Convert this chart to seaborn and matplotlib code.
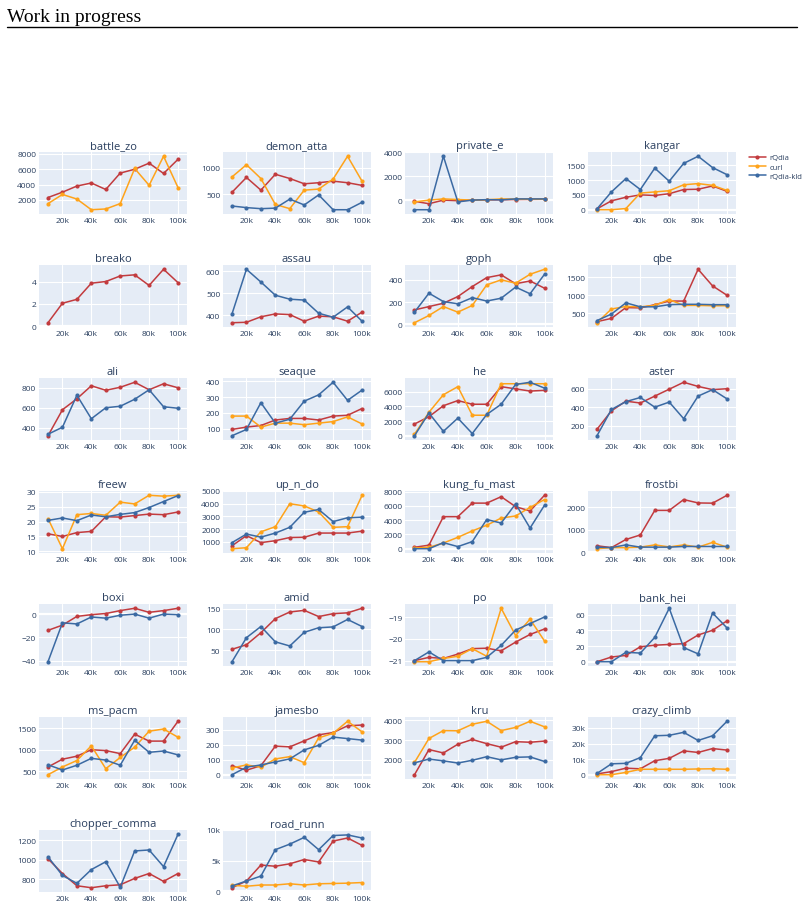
import matplotlib
matplotlib.use("Agg")
import matplotlib.pyplot as plt
from matplotlib.lines import Line2D
from matplotlib.ticker import FuncFormatter
import seaborn as sns
import pandas as pd

# ---------------- data ----------------
steps = [10000, 20000, 30000, 40000, 50000, 60000, 70000, 80000, 90000, 100000]
x_ticks = [20000, 40000, 60000, 80000, 100000]
x_tick_labels = ["20k", "40k", "60k", "80k", "100k"]
methods = ["rQdia", "curl", "rQdia-kld"]
colors = {"rQdia": "#c23b3e", "curl": "#ffa31a", "rQdia-kld": "#3b6aa3"}

battle_zo = {"rQdia": [2300, 3000, 3800, 4200, 3350, 5500, 6000, 6800, 5450, 7300],
             "curl": [1500, 2700, 2100, 700, 800, 1500, 6100, 3900, 7700, 3600]}
demon_atta = {"rQdia": [540, 820, 580, 880, 800, 700, 720, 750, 720, 670],
              "curl": [830, 1060, 800, 310, 230, 580, 600, 790, 1220, 750],
              "rQdia-kld": [280, 250, 230, 240, 410, 300, 490, 210, 210, 350]}
private_e = {"rQdia": [-100, -300, 0, -50, 0, 20, 30, 50, 60, 70],
             "curl": [-150, 0, 100, 50, 0, 30, 100, 80, 80, 80],
             "rQdia-kld": [-800, -800, 3650, -150, 0, 40, 20, 100, 100, 100]}
kangar = {"rQdia": [30, 300, 420, 500, 480, 540, 680, 690, 800, 620],
          "curl": [0, 0, 40, 560, 600, 640, 840, 880, 820, 650],
          "rQdia-kld": [30, 600, 1050, 680, 1400, 960, 1560, 1800, 1420, 1180]}
breako = {"rQdia": [0.3, 2.05, 2.4, 3.85, 4.0, 4.5, 4.6, 3.65, 5.1, 3.9]}
assau = {"rQdia": [365, 367, 392, 405, 402, 372, 395, 392, 372, 413],
         "rQdia-kld": [405, 608, 550, 490, 472, 468, 408, 390, 437, 372]}
goph = {"rQdia": [130, 160, 190, 250, 340, 420, 445, 365, 390, 325],
        "curl": [15, 80, 160, 110, 170, 355, 400, 370, 450, 495],
        "rQdia-kld": [110, 280, 205, 185, 240, 210, 235, 335, 275, 450]}
qbe = {"rQdia": [270, 360, 660, 650, 740, 840, 840, 1720, 1260, 1000],
       "curl": [240, 620, 690, 680, 720, 880, 720, 720, 710, 710],
       "rQdia-kld": [300, 480, 790, 680, 680, 740, 750, 750, 740, 740]}
ali = {"rQdia": [320, 580, 690, 820, 775, 805, 855, 780, 840, 800],
       "rQdia-kld": [335, 405, 725, 490, 600, 615, 685, 780, 610, 595]}
seaque = {"rQdia": [95, 110, 120, 155, 165, 165, 155, 180, 185, 228],
          "curl": [180, 180, 110, 135, 135, 125, 135, 145, 175, 130],
          "rQdia-kld": [55, 95, 265, 135, 160, 275, 315, 395, 280, 345]}
he = {"rQdia": [1600, 2600, 4100, 4800, 4300, 4300, 6700, 6400, 6100, 6200],
      "curl": [200, 3200, 5600, 6700, 2800, 2800, 7100, 7100, 7100, 7100],
      "rQdia-kld": [0, 3100, 600, 2400, 300, 2900, 4300, 7000, 7300, 6500]}
aster = {"rQdia": [160, 360, 465, 445, 520, 595, 670, 625, 590, 600],
         "rQdia-kld": [90, 375, 460, 505, 400, 455, 275, 520, 590, 490]}
freew = {"rQdia": [15.9, 15.0, 16.3, 16.7, 21.6, 21.5, 22.0, 22.5, 22.3, 23.2],
         "curl": [21.0, 10.9, 22.3, 22.7, 22.1, 26.5, 25.9, 28.8, 28.5, 28.8],
         "rQdia-kld": [20.4, 21.2, 20.3, 22.2, 21.6, 22.4, 23.0, 24.7, 26.7, 28.7]}
up_n_do = {"rQdia": [700, 1500, 950, 1100, 1350, 1370, 1700, 1700, 1700, 1850],
           "curl": [470, 550, 1800, 2200, 4000, 3830, 3350, 2150, 2200, 4650],
           "rQdia-kld": [950, 1620, 1380, 1700, 2150, 3330, 3550, 2600, 2900, 2950]}
kung_fu_mast = {"rQdia": [200, 500, 4500, 4500, 6400, 6400, 7300, 5900, 5300, 7500],
                "curl": [100, 200, 800, 1600, 2500, 3300, 4300, 4600, 5800, 6900],
                "rQdia-kld": [0, 0, 850, 300, 1000, 4100, 3600, 6300, 2900, 6100]}
frostbi = {"rQdia": [280, 200, 560, 760, 1850, 1850, 2330, 2180, 2170, 2520],
           "curl": [150, 200, 200, 220, 320, 230, 320, 220, 430, 220],
           "rQdia-kld": [220, 200, 320, 220, 220, 220, 250, 250, 250, 250]}
boxi = {"rQdia": [-14, -9.5, -2, -0.5, 0.5, 3, 5, 1.5, 3, 5],
        "rQdia-kld": [-41, -7.5, -8.5, -2.5, -3.5, -1, 0, -3.5, 0, -0.5]}
amid = {"rQdia": [52, 63, 92, 126, 142, 146, 131, 138, 140, 151],
        "rQdia-kld": [22, 80, 107, 70, 60, 93, 104, 106, 124, 107]}
po = {"rQdia": [-21, -20.85, -20.9, -20.7, -20.45, -20.43, -20.55, -20.15, -19.8, -19.55],
      "curl": [-21.05, -21.05, -20.9, -20.8, -20.45, -20.8, -18.6, -19.85, -19.1, -20.1],
      "rQdia-kld": [-21, -20.6, -21, -21, -21, -20.85, -20.3, -19.6, -19.3, -19.0]}
bank_hei = {"rQdia": [0, 6, 8, 19, 21, 22, 23, 34, 40, 52],
            "rQdia-kld": [0, 0, 12, 11, 31, 68, 18, 10, 62, 43]}
ms_pacm = {"rQdia": [600, 780, 850, 1000, 980, 910, 1360, 1200, 1200, 1660],
           "curl": [420, 600, 750, 1090, 560, 820, 1060, 1430, 1480, 1290],
           "rQdia-kld": [650, 530, 640, 800, 760, 640, 1220, 940, 970, 880]}
jamesbo = {"rQdia": [60, 30, 60, 190, 185, 225, 265, 280, 325, 330],
           "curl": [45, 65, 50, 105, 120, 80, 245, 275, 355, 285],
           "rQdia-kld": [0, 50, 65, 85, 105, 165, 195, 250, 240, 230]}
kru = {"rQdia": [1250, 2520, 2350, 2790, 3030, 2820, 2640, 2920, 2890, 2950],
       "curl": [1870, 3080, 3480, 3470, 3800, 3950, 3480, 3640, 3950, 3670],
       "rQdia-kld": [1850, 2040, 1950, 1840, 1980, 2160, 2000, 2130, 2150, 1920]}
crazy_climb = {"rQdia": [500, 2000, 4200, 3800, 9000, 10500, 15300, 14300, 16800, 15800],
               "curl": [0, 0, 1500, 3500, 3500, 3500, 3500, 3700, 3800, 3500],
               "rQdia-kld": [800, 7000, 7300, 11000, 25000, 25300, 27200, 22000, 25000, 34300]}
chopper_comma = {"rQdia": [1010, 860, 735, 715, 735, 745, 810, 860, 780, 860],
                 "rQdia-kld": [1030, 840, 760, 900, 980, 720, 1090, 1100, 930, 1260]}
road_runn = {"rQdia": [600, 1700, 4300, 4100, 4500, 5200, 4800, 8200, 8700, 7500],
             "curl": [1000, 850, 1050, 1050, 1250, 1050, 1250, 1300, 1350, 1450],
             "rQdia-kld": [900, 1700, 2500, 6800, 7700, 8800, 6800, 9100, 9200, 8700]}

games = [
    ("battle_zo", battle_zo, [2000, 4000, 6000, 8000]),
    ("demon_atta", demon_atta, [500, 1000]),
    ("private_e", private_e, [0, 2000, 4000]),
    ("kangar", kangar, [0, 500, 1000, 1500]),
    ("breako", breako, [0, 2, 4]),
    ("assau", assau, [400, 500, 600]),
    ("goph", goph, [0, 200, 400]),
    ("qbe", qbe, [500, 1000, 1500]),
    ("ali", ali, [400, 600, 800]),
    ("seaque", seaque, [100, 200, 300, 400]),
    ("he", he, [0, 2000, 4000, 6000]),
    ("aster", aster, [200, 400, 600]),
    ("freew", freew, [10, 15, 20, 25, 30]),
    ("up_n_do", up_n_do, [1000, 2000, 3000, 4000, 5000]),
    ("kung_fu_mast", kung_fu_mast, [0, 2000, 4000, 6000, 8000]),
    ("frostbi", frostbi, [0, 1000, 2000]),
    ("boxi", boxi, [-40, -20, 0]),
    ("amid", amid, [50, 100, 150]),
    ("po", po, [-21, -20, -19]),
    ("bank_hei", bank_hei, [0, 20, 40, 60]),
    ("ms_pacm", ms_pacm, [500, 1000, 1500]),
    ("jamesbo", jamesbo, [0, 100, 200, 300]),
    ("kru", kru, [2000, 3000, 4000]),
    ("crazy_climb", crazy_climb, [0, 10000, 20000, 30000]),
    ("chopper_comma", chopper_comma, [800, 1000, 1200]),
    ("road_runn", road_runn, [0, 5000, 10000]),
]

# ---------------- style ----------------
sns.set_style("darkgrid", {"axes.facecolor": "#E5ECF6", "grid.color": "white"})
plt.rcParams["font.family"] = ["Open Sans", "DejaVu Sans"]
TEXT = "#2a3f5f"

W, H = 804, 904
fig = plt.figure(figsize=(W / 100, H / 100), dpi=100)

col_left = [39, 223, 405.5, 588]
pw, ph = 148, 62
row_top0, row_pitch = 153, 113


def make_fmt(ticks):
    use_k = max(abs(t) for t in ticks) >= 10000

    def f(v, pos):
        if use_k and v != 0:
            return f"{v / 1000:g}k"
        s = f"{v:g}"
        return s.replace("-", "\u2212")
    return f


for i, (name, series, yt) in enumerate(games):
    r, c = divmod(i, 4)
    top = row_top0 + r * row_pitch
    ax = fig.add_axes([col_left[c] / W, 1 - (top + ph) / H, pw / W, ph / H])
    rows = []
    for m in methods:
        if m in series:
            for s, v in zip(steps, series[m]):
                rows.append({"step": s, "score": v, "method": m})
    df = pd.DataFrame(rows)
    present = [m for m in methods if m in series]
    sns.lineplot(data=df, x="step", y="score", hue="method", hue_order=present,
                 palette=colors, marker="o", markersize=3.0, markeredgewidth=0,
                 linewidth=1.1, ax=ax, legend=False)
    ax.set_xlim(3770, 106230)
    ax.margins(y=0.08)
    ax.set_xticks(x_ticks)
    ax.set_xticklabels(x_tick_labels)
    ax.set_yticks(yt)
    ax.yaxis.set_major_formatter(FuncFormatter(make_fmt(yt)))
    lo, hi = ax.get_ylim()
    lo = min(lo, min(yt) - 0.02 * (hi - lo)) if min(yt) < lo else lo
    hi = max(hi, max(yt) + 0.02 * (hi - lo)) if max(yt) > hi else hi
    ax.set_ylim(lo, hi)
    if lo < 0 < hi:
        ax.axhline(0, color="white", lw=1.6, zorder=1)
    ax.set_xlabel("")
    ax.set_ylabel("")
    ax.tick_params(length=0, labelsize=6, labelcolor=TEXT, pad=2)
    ax.grid(True, color="white", lw=0.8)
    for sp in ax.spines.values():
        sp.set_visible(False)
    ax.set_title(name, fontsize=8, color=TEXT, pad=3)

handles = [Line2D([0], [0], color=colors[m], marker="o", markersize=3.0,
                  markeredgewidth=0, lw=1.1) for m in methods]
fig.legend(handles, methods, loc="upper left",
           bbox_to_anchor=(746 / W, 1 - 152 / H), frameon=False,
           fontsize=5.5, labelcolor=TEXT, handlelength=2.2, labelspacing=0.25,
           handletextpad=0.5, borderaxespad=0)

fig.text(7 / W, 1 - 22 / H, "Work in progress", fontsize=14,
         family=["Liberation Serif", "DejaVu Serif"], color="black", va="baseline")
fig.add_artist(Line2D([7 / W, 797 / W], [1 - 27.5 / H, 1 - 27.5 / H],
                      color="black", lw=1.0))

fig.savefig("out.png", dpi=100)
